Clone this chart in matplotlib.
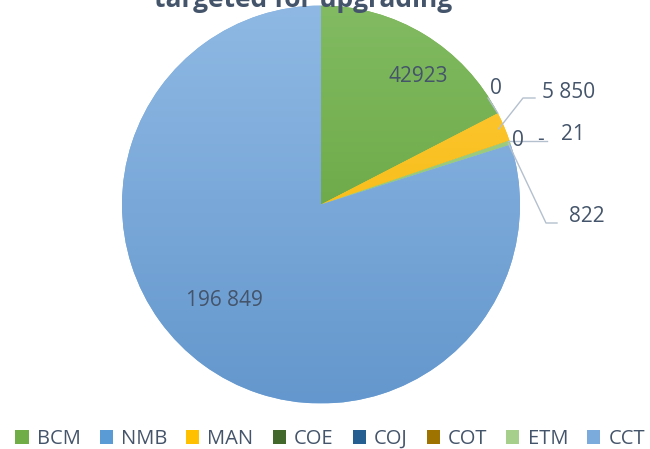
import numpy as np
import matplotlib
matplotlib.use('Agg')
import matplotlib.pyplot as plt
from matplotlib.colors import LinearSegmentedColormap
from matplotlib.patches import Patch

plt.rcParams['font.family'] = ['Open Sans', 'DejaVu Sans']

# data
munis = ['BCM', 'NMB', 'MAN', 'COE', 'COJ', 'COT', 'ETM', 'CCT']
values = [42923, 0, 5850, 0, 0, 21, 822, 196849]
value_labels = ['42923', '0', '5 850', '0', '-', '21', '822', '196 849']
title = 'targeted for upgrading'

# style
base_cols = ['#70AD47', '#5B9BD5', '#FFC000', '#43682B', '#255E91', '#9E7300', '#A5CF8A', '#7BAADD']
top_cols = ['#82BB62', '#6AA6DC', '#FFCB3A', '#4C7431', '#2B68A0', '#A97D0A', '#A8D28C', '#8FB9E4']
bot_cols = ['#5C9B32', '#4E8CC8', '#F2B200', '#3A5C24', '#1F5281', '#8C6500', '#86BE62', '#6497CD']
txt_col = '#44546A'
line_col = '#B4C0CE'

W, H = 650, 449
fig = plt.figure(figsize=(W / 100, H / 100), dpi=100)
cx, cy, r = 321, 204.5, 199
ax = fig.add_axes([(cx - r) / W, 1 - (cy + r) / H, 2 * r / W, 2 * r / H])

wedges, _ = ax.pie(values, colors=base_cols, startangle=90, counterclock=False,
                   radius=1, wedgeprops=dict(linewidth=0))
ax.axis('off')

# vertical gradient fill, clipped to each wedge
grad = np.linspace(0, 1, 256).reshape(-1, 1)
for w, top, bot in zip(wedges, top_cols, bot_cols):
    cmap = LinearSegmentedColormap.from_list('g', [bot, top])
    im = ax.imshow(grad, cmap=cmap, extent=(-1, 1, -1, 1), origin='lower',
                   aspect='auto', zorder=w.get_zorder() + 0.1)
    im.set_clip_path(w)
ax.set_xlim(-1, 1)
ax.set_ylim(-1, 1)

def px(x, y):
    return (x - cx) / r, (cy - y) / r

def mid_pt(w, rad=1.0):
    a = np.deg2rad((w.theta1 + w.theta2) / 2)
    return rad * np.cos(a), rad * np.sin(a)

fs = 15
# inside labels
ax.text(*px(418, 77), value_labels[0], ha='center', va='center', fontsize=fs, color=txt_col)
ax.text(*px(224, 300), value_labels[7], ha='center', va='center', fontsize=fs, color=txt_col)

# outside labels with leader lines
# NMB 0
a0 = np.deg2rad(wedges[1].theta1)
x0, y0 = np.cos(a0), np.sin(a0)
x1, y1 = px(488, 98)
ax.plot([x0, x1], [y0, y1], color=line_col, lw=1, clip_on=False)
ax.text(*px(496, 89), value_labels[1], ha='center', va='center', fontsize=fs, color=txt_col)

# MAN
x0, y0 = mid_pt(wedges[2], 0.97)
xe, ye = px(523, 98)
xf, _ = px(535, 98)
ax.plot([x0, xe, xf], [y0, ye, ye], color=line_col, lw=1, clip_on=False)
ax.text(*px(542, 93), value_labels[2], ha='left', va='center', fontsize=fs, color=txt_col)

# COE / COJ / COT
x0, y0 = mid_pt(wedges[5], 0.99)
xf, _ = px(547, 141)
ax.plot([x0, xf], [y0, y0], color=line_col, lw=1, clip_on=False)
ax.text(*px(518, 141), value_labels[3], ha='center', va='center', fontsize=fs, color=txt_col)
ax.text(*px(540, 139), value_labels[4], ha='center', va='center', fontsize=fs, color=txt_col)
ax.text(*px(561, 134), value_labels[5], ha='left', va='center', fontsize=fs, color=txt_col)

# ETM
x0, y0 = mid_pt(wedges[6], 0.99)
xe, ye = px(546, 223)
xf, _ = px(557, 223)
ax.plot([x0, xe, xf], [y0, ye, ye], color=line_col, lw=1, clip_on=False)
ax.text(*px(569, 216), value_labels[6], ha='left', va='center', fontsize=fs, color=txt_col)

fig.text(303.5 / W, 1 - 7 / H, title, ha='center', va='baseline', fontsize=19,
         fontweight='bold', color=txt_col)

handles = [Patch(facecolor=c, edgecolor='none') for c in base_cols]
fig.legend(handles, munis, loc='center', bbox_to_anchor=(0.508, 10 / H), ncol=8,
           frameon=False, fontsize=14.5, handlelength=0.65, handleheight=0.65,
           handletextpad=0.4, columnspacing=0.95, labelcolor=txt_col,
           borderaxespad=0, borderpad=0)

fig.savefig('out.png', dpi=100)
